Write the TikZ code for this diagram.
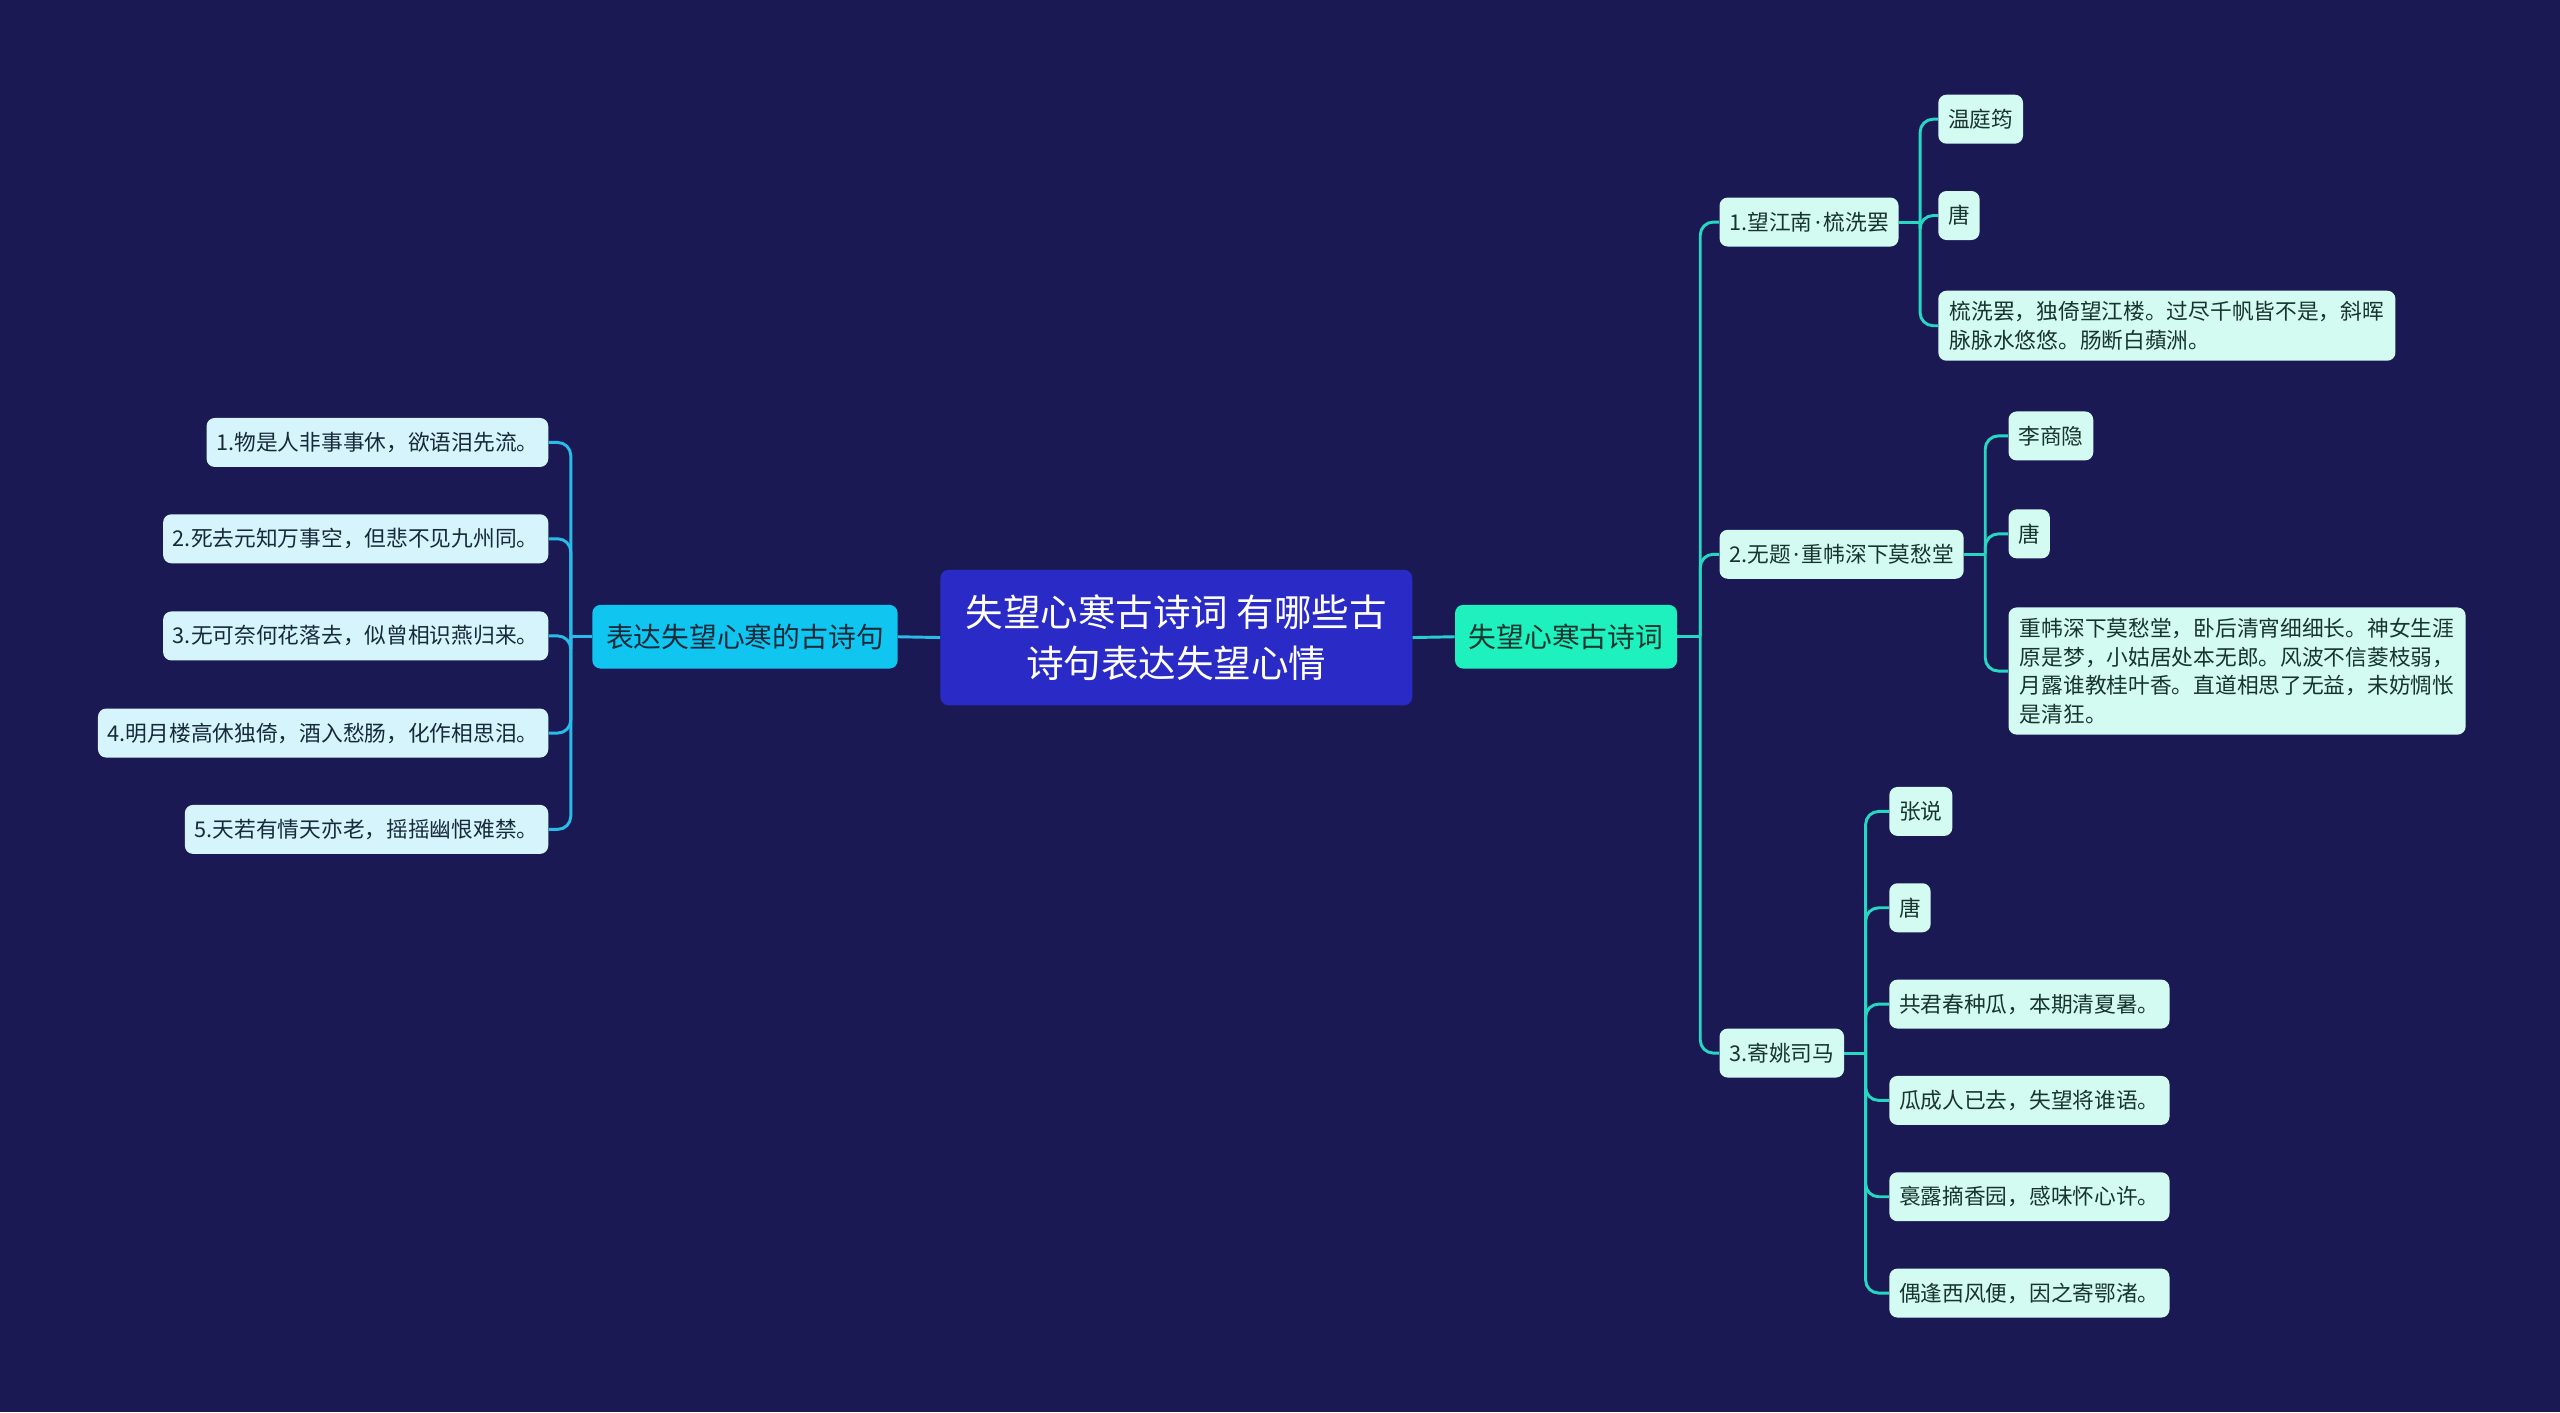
\documentclass[tikz,border=0pt]{standalone}
\usepackage{fontspec}
\newfontfamily\cjk{Noto Sans CJK SC}
\newfontfamily\latn{Noto Sans}
\newcommand{\mdot}{\hspace{1.6pt}{\latn ·}\hspace{1.6pt}}
\definecolor{bg}{HTML}{1A1953}
\definecolor{cent}{HTML}{2A2AC6}
\definecolor{mainR}{HTML}{1EF0BE}
\definecolor{mainL}{HTML}{10C6F0}
\definecolor{leafR}{HTML}{D4FBF1}
\definecolor{leafL}{HTML}{D6F4FB}
\definecolor{lineR}{HTML}{26D8C2}
\definecolor{lineL}{HTML}{2ABCE8}
\definecolor{txtR}{HTML}{17352E}
\definecolor{txtL}{HTML}{172A3A}
\tikzset{
  base/.style={rounded corners=5pt, inner xsep=6pt, inner ysep=0pt, minimum height=30pt,
    font=\cjk\fontsize{13.3}{17.5}\selectfont},
  lleaf/.style={base, fill=leafL, text=txtL, anchor=east},
  rleaf/.style={base, fill=leafR, text=txtR, anchor=west},
  poem/.style={rleaf, align=left, inner ysep=6.5pt, inner xsep=7pt},
  connR/.style={draw=lineR, line width=1.8pt, rounded corners=8pt},
  connL/.style={draw=lineL, line width=1.8pt, rounded corners=8pt},
}
\begin{document}
\begin{tikzpicture}[x=1pt,y=-1pt]
\fill[bg] (0,0) rectangle (1568,865);
\useasboundingbox (0,0) rectangle (1568,865);

% central
\node[rounded corners=5pt, fill=cent, text=white, minimum width=289pt, minimum height=83pt,
  align=center, font=\cjk\fontsize{23}{31}\selectfont] (root) at (720.5,390.5)
  {失望心寒古诗词 有哪些古\\诗句表达失望心情};

\node[rounded corners=5pt, fill=mainR, text=txtR, inner xsep=8.5pt, minimum height=39pt,
  font=\cjk\fontsize{17}{20}\selectfont, anchor=west] (mr) at (891,390) {失望心寒古诗词};
\node[rounded corners=5pt, fill=mainL, text=txtL, inner xsep=8.5pt, minimum height=39pt,
  font=\cjk\fontsize{17}{20}\selectfont, anchor=east] (ml) at (550,390) {表达失望心寒的古诗句};

\draw[lineL, line width=1.8pt] (root.west) -- (ml.east);
\draw[lineR!60!lineL, line width=1.8pt] (root.east) -- (mr.west);

% left leaves
\node[lleaf] (l1) at (336,271) {1.物是人非事事休，欲语泪先流。};
\node[lleaf] (l2) at (336,330) {2.死去元知万事空，但悲不见九州同。};
\node[lleaf] (l3) at (336,389.5) {3.无可奈何花落去，似曾相识燕归来。};
\node[lleaf] (l4) at (336,449) {4.明月楼高休独倚，酒入愁肠，化作相思泪。};
\node[lleaf] (l5) at (336,508) {5.天若有情天亦老，摇摇幽恨难禁。};

\path (ml.west) ++(-13,0) coordinate (sl);
\draw[connL, rounded corners=0pt] (ml.west) -- (sl);
\foreach \n in {l1,l2,l3,l4,l5} \draw[connL] (sl) |- (\n.east);

% right children
\node[rleaf] (c1) at (1053,136) {1.望江南\mdot 梳洗罢};
\node[rleaf] (c2) at (1053,339.5) {2.无题\mdot 重帏深下莫愁堂};
\node[rleaf] (c3) at (1053,645) {3.寄姚司马};

\path (mr.east) ++(14,0) coordinate (sr);
\draw[connR, rounded corners=0pt] (mr.east) -- (sr);
\foreach \n in {c1,c2,c3} \draw[connR] (sr) |- (\n.west);

% grandchildren of c1
\node[rleaf] (g11) at (1187,73) {温庭筠};
\node[rleaf] (g12) at (1187,132) {唐};
\node[poem] (g13) at (1187,199.5) {梳洗罢，独倚望江楼。过尽千帆皆不是，斜晖\\脉脉水悠悠。肠断白蘋洲。};
\path (c1.east) ++(13,0) coordinate (s1);
\draw[connR, rounded corners=0pt] (c1.east) -- (s1);
\foreach \n in {g11,g12,g13} \draw[connR] (s1) |- (\n.west);

% grandchildren of c2
\node[rleaf] (g21) at (1230,267) {李商隐};
\node[rleaf] (g22) at (1230,327) {唐};
\node[poem] (g23) at (1230,411) {重帏深下莫愁堂，卧后清宵细细长。神女生涯\\原是梦，小姑居处本无郎。风波不信菱枝弱，\\月露谁教桂叶香。直道相思了无益，未妨惆怅\\是清狂。};
\path (c2.east) ++(13,0) coordinate (s2);
\draw[connR, rounded corners=0pt] (c2.east) -- (s2);
\foreach \n in {g21,g22,g23} \draw[connR] (s2) |- (\n.west);

% grandchildren of c3
\node[rleaf] (g31) at (1157,497) {张说};
\node[rleaf] (g32) at (1157,556) {唐};
\node[rleaf] (g33) at (1157,615) {共君春种瓜，本期清夏暑。};
\node[rleaf] (g34) at (1157,674) {瓜成人已去，失望将谁语。};
\node[rleaf] (g35) at (1157,733) {裛露摘香园，感味怀心许。};
\node[rleaf] (g36) at (1157,792) {偶逢西风便，因之寄鄂渚。};
\path (c3.east) ++(13,0) coordinate (s3);
\draw[connR, rounded corners=0pt] (c3.east) -- (s3);
\foreach \n in {g31,g32,g33,g34,g35,g36} \draw[connR] (s3) |- (\n.west);
\end{tikzpicture}
\end{document}
